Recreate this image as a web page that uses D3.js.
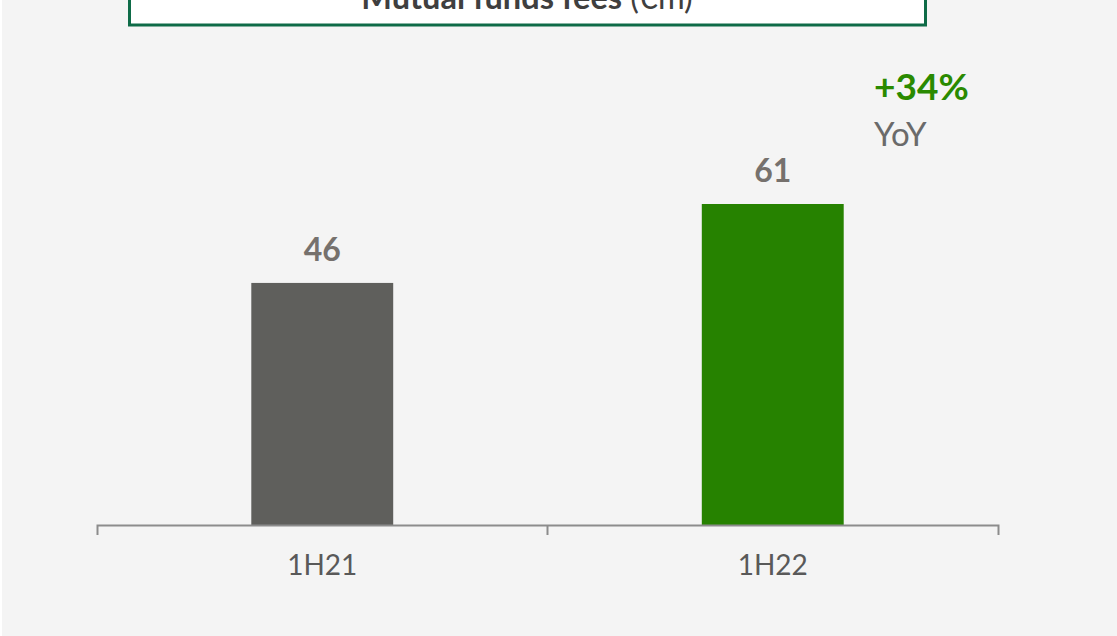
<!DOCTYPE html>
<html>
<head>
<meta charset="utf-8">
<script src="https://cdn.jsdelivr.net/npm/d3@7"></script>
<style>
  html, body { margin: 0; padding: 0; background: #f4f4f4; }
  svg { display: block; }
</style>
</head>
<body>
<div id="mywrap"></div>
<script>
const periods = ["1H21", "1H22"]
const fees = [46, 61]
const barColors = ["#5f5f5c", "#268200"]
const titleBold = "Mutual funds fees"
const titleUnit = " (€m)"
const yoyValue = "+34%"
const yoyLabel = "YoY"

let sWidth = 1117,
    sHeight = 636

let svg = d3.select("#mywrap").append("svg")
    .attr("width", sWidth)
    .attr("height", sHeight)

svg.append("rect")
    .attr("width", sWidth).attr("height", sHeight)
    .attr("fill", "#f4f4f4")
svg.append("rect")
    .attr("width", 2).attr("height", sHeight)
    .attr("fill", "#ffffff")

let axisY = 525

let xScale = d3.scaleBand()
    .domain(periods)
    .range([97, 998])
    .paddingInner(0.685)
    .paddingOuter(0.3425)

let yScale = d3.scaleLinear()
    .domain([0, 61])
    .range([axisY, 204])

// title box, top runs off the page like the original slide
svg.append("rect")
    .attr("x", 129.5).attr("y", -40)
    .attr("width", 796).attr("height", 65)
    .attr("fill", "#ffffff")
    .attr("stroke", "#0e6b47")
    .attr("stroke-width", 3)

let title = svg.append("text")
    .attr("x", 527).attr("y", 9)
    .attr("text-anchor", "middle")
    .attr("font-family", "Lato")
    .attr("font-size", 32.5)
    .attr("fill", "#3f3f3f")
title.append("tspan").attr("font-weight", "bold").text(titleBold)
title.append("tspan").text(titleUnit)

// bars
svg.selectAll("rect.bar")
    .data(fees)
    .enter()
    .append("rect")
    .attr("class", "bar")
    .attr("x", (d, i) => xScale(periods[i]))
    .attr("width", xScale.bandwidth())
    .attr("y", d => yScale(d))
    .attr("height", d => axisY - yScale(d))
    .attr("fill", (d, i) => barColors[i])

svg.selectAll("text.val")
    .data(fees)
    .enter()
    .append("text")
    .attr("class", "val")
    .attr("x", (d, i) => xScale(periods[i]) + xScale.bandwidth() / 2)
    .attr("y", d => yScale(d) - 22)
    .attr("text-anchor", "middle")
    .attr("font-family", "Lato")
    .attr("font-weight", "bold")
    .attr("font-size", 32)
    .attr("fill", "#76716d")
    .text(d => d)

// x axis
let xAxis = d3.axisBottom(xScale).tickSize(0).tickSizeOuter(10).tickPadding(30)

let gx = svg.append("g")
    .attr("transform", `translate(0,${axisY})`)
    .call(xAxis)
gx.select(".domain").attr("stroke", "#8c8c8c").attr("stroke-width", 2)
gx.selectAll("text")
    .attr("font-family", "Lato")
    .attr("font-size", 28)
    .attr("fill", "#595959")

// divider tick between the two periods
gx.append("line")
    .attr("x1", xScale(periods[1]) - xScale.step() * xScale.paddingInner() / 2)
    .attr("x2", xScale(periods[1]) - xScale.step() * xScale.paddingInner() / 2)
    .attr("y1", 0).attr("y2", 10)
    .attr("stroke", "#8c8c8c").attr("stroke-width", 2)

// YoY annotation
svg.append("text")
    .attr("x", 874).attr("y", 100)
    .attr("font-family", "Lato")
    .attr("font-weight", "bold")
    .attr("font-size", 37)
    .attr("fill", "#2a8a00")
    .text(yoyValue)

svg.append("text")
    .attr("x", 874).attr("y", 146)
    .attr("font-family", "Lato")
    .attr("font-size", 33)
    .attr("fill", "#6a6a6a")
    .text(yoyLabel)
</script>
</body>
</html>
